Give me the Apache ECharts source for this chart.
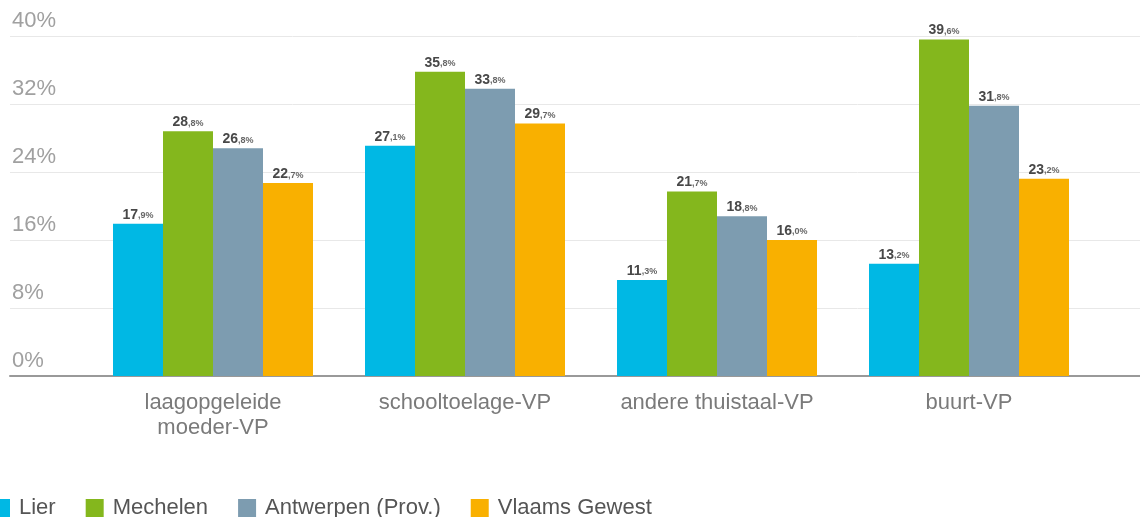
<!DOCTYPE html>
<html>
<head>
<meta charset="utf-8">
<script src="https://cdn.jsdelivr.net/npm/echarts@6/dist/echarts.min.js"></script>
<style>html,body{margin:0;padding:0;background:#fff}#c{width:1140px;height:517px}</style>
</head>
<body>
<div id="c"></div>
<script>
const categories = ['laagopgeleide\nmoeder-VP', 'schooltoelage-VP', 'andere thuistaal-VP', 'buurt-VP'];
const seriesNames = ['Lier', 'Mechelen', 'Antwerpen (Prov.)', 'Vlaams Gewest'];
const lier = [17.9, 27.1, 11.3, 13.2];
const mechelen = [28.8, 35.8, 21.7, 39.6];
const antwerpen = [26.8, 33.8, 18.8, 31.8];
const vlaams = [22.7, 29.7, 16.0, 23.2];
const yTicks = [0, 8, 16, 24, 32, 40];
const colors = ['#00b8e4', '#84b71d', '#7d9cb0', '#f9b000'];

const FONT = '"Liberation Sans", Arial, sans-serif';
const values = [lier, mechelen, antwerpen, vlaams];

function labelFmt(p) {
  const s = p.value.toFixed(1).split('.');
  return '{a|' + s[0] + '}{b|,' + s[1] + '%}';
}

const chart = echarts.init(document.getElementById('c'), null, {renderer: 'canvas'});
chart.setOption({
  animation: false,
  textStyle: {fontFamily: FONT},
  grid: [
    {left: 10, right: 0, top: 36, bottom: 141, containLabel: false},
    {left: 87, right: 45, top: 36, bottom: 141, containLabel: false}
  ],
  legend: {
    left: -13, top: 492, itemWidth: 18, itemHeight: 18, itemGap: 30,
    icon: 'rect',
    textStyle: {fontSize: 22, color: '#555', fontFamily: FONT, padding: [0, 0, 0, 4]},
    data: seriesNames
  },
  xAxis: [
    {gridIndex: 0, type: 'value', min: 0, max: 1, show: true,
     axisLine: {show: true, onZero: false, lineStyle: {color: '#999', width: 2}},
     axisTick: {show: false}, axisLabel: {show: false}, splitLine: {show: false}},
    {gridIndex: 1, type: 'category', data: categories,
     axisLine: {show: false}, axisTick: {show: false},
     axisLabel: {fontSize: 22, color: '#7a7a7a', margin: 14, lineHeight: 25, fontFamily: FONT}}
  ],
  yAxis: [
    {gridIndex: 0, type: 'value', min: yTicks[0], max: yTicks[yTicks.length - 1], interval: 8,
     axisLine: {show: false}, axisTick: {show: false},
     splitLine: {lineStyle: {color: '#e8e8e8', width: 1}},
     axisLabel: {inside: true, verticalAlign: 'bottom', margin: 2, padding: [0, 0, 4, 0],
       fontSize: 22, color: '#a0a0a0', fontFamily: FONT, formatter: '{value}%'}},
    {gridIndex: 1, type: 'value', min: 0, max: 40, interval: 8, show: false}
  ],
  series: values.map((v, i) => ({
    name: seriesNames[i], type: 'bar', xAxisIndex: 1, yAxisIndex: 1,
    data: v, barWidth: 50, barGap: '0%',
    itemStyle: {color: colors[i]},
    label: {
      show: true, position: 'top', distance: 2, formatter: labelFmt,
      rich: {
        a: {fontSize: 14, fontWeight: 'bold', color: '#484848', fontFamily: FONT},
        b: {fontSize: 9, fontWeight: 'bold', color: '#666', fontFamily: FONT, padding: [2, 0, 0, 0]}
      }
    }
  }))
});
</script>
</body>
</html>
